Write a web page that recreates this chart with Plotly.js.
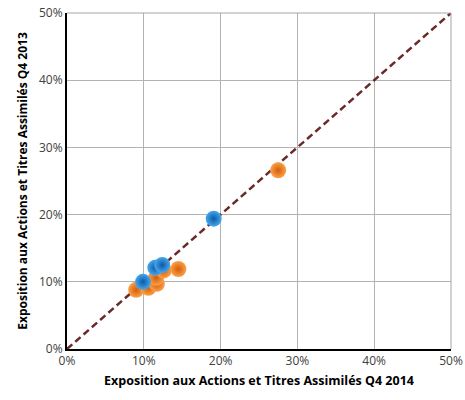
<!DOCTYPE html>
<html><head><meta charset="utf-8">
<script src="https://cdn.plot.ly/plotly-3.0.1.min.js"></script>
<style>html,body{margin:0;padding:0;background:#fff;}#chart{width:465px;height:400px;}</style>
</head><body><div id="chart"></div>
<script>
var orangeX = [27.5, 14.5, 9.0, 10.6, 11.7, 11.6, 12.6];
var orangeY = [26.6, 11.9, 8.8, 9.1, 9.7, 10.6, 11.7];
var blueX = [19.1, 9.9, 11.5, 12.4];
var blueY = [19.4, 10.0, 12.1, 12.5];
var diagX = [0, 50];
var diagY = [0, 50];
var tickVals = [0, 10, 20, 30, 40, 50];
var tickText = ['0%', '10%', '20%', '30%', '40%', '50%'];

var font = 'Open Sans, Noto Sans, sans-serif';
var traces = [
  {x: diagX, y: diagY, mode: 'lines', line: {color: '#6B2A2A', width: 2.5, dash: '7px,4px'}, hoverinfo: 'skip'},
  {x: orangeX, y: orangeY, mode: 'markers',
   marker: {size: 16, color: '#FDA04A', gradient: {type: 'radial', color: '#D25E08'}, line: {width: 0}}},
  {x: blueX, y: blueY, mode: 'markers',
   marker: {size: 16, color: '#45A8EE', gradient: {type: 'radial', color: '#0E5AA3'}, line: {width: 0}}}
];
var axisCommon = {
  range: [0, 50], tickvals: tickVals, ticktext: tickText,
  showgrid: true, gridcolor: '#B3B3B3', gridwidth: 1,
  zeroline: false, showline: true, linecolor: '#000', linewidth: 2,
  ticks: '', tickfont: {family: font, size: 12, color: '#404040'},
  fixedrange: true
};
var layout = {
  width: 465, height: 400,
  margin: {l: 67, r: 14, t: 13, b: 51},
  showlegend: false,
  paper_bgcolor: '#fff', plot_bgcolor: '#fff',
  xaxis: Object.assign({}, axisCommon, {
    title: {text: '<b>Exposition aux Actions et Titres Assimilés Q4 2014</b>', font: {family: font, size: 12.5, color: '#000'}, standoff: 8}
  }),
  yaxis: Object.assign({}, axisCommon, {
    title: {text: '<b>Exposition aux Actions et Titres Assimilés Q4 2013</b>', font: {family: font, size: 12, color: '#000'}, standoff: 9}
  }),
  shapes: [
    {type: 'line', xref: 'paper', yref: 'paper', x0: 0, x1: 1, y0: 1, y1: 1, line: {color: '#A6A6A6', width: 1}},
    {type: 'line', xref: 'paper', yref: 'paper', x0: 1, x1: 1, y0: 0, y1: 1, line: {color: '#A6A6A6', width: 1}}
  ]
};
Plotly.newPlot('chart', traces, layout, {displayModeBar: false, staticPlot: true});
</script></body></html>
